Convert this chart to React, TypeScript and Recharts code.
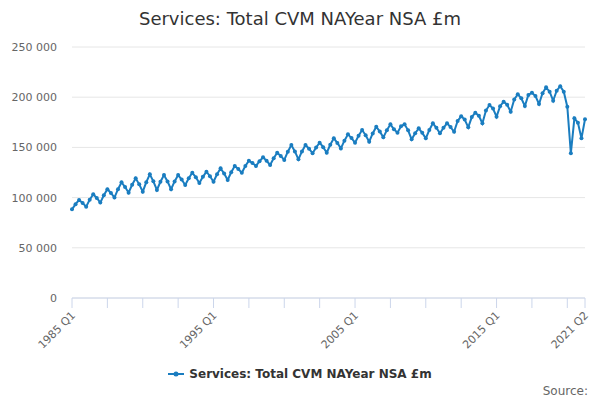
import { LineChart, Line, XAxis, YAxis, CartesianGrid } from "recharts";

const title = "Services: Total CVM NAYear NSA £m";
const seriesName = "Services: Total CVM NAYear NSA £m";
const lineColor = "#1a7dc0";
const font = "'DejaVu Sans', sans-serif";

const firstYear = 1985;
const quarterCount = 146;
const quarters = ["Q1", "Q2", "Q3", "Q4"];

// quarterly values, £m
const values1985to1994 = [
    88300, 93400, 97600, 94600,
    91000, 97800, 103300, 99600,
    95000, 102300, 108300, 104600,
    100000, 108400, 115200, 110600,
    104900, 112800, 119200, 113200,
    105900, 115400, 123200, 116200,
    107600, 115800, 122500, 116100,
    108300, 116100, 122500, 118000,
    112500, 119300, 124800, 120200,
    114500, 120700, 125800, 121300,
];
const values1995to2004 = [
    115800, 123200, 129200, 123900,
    117500, 125200, 131500, 128500,
    124800, 131400, 136800, 134400,
    131500, 136200, 140100, 136700,
    132500, 139200, 144700, 141500,
    137500, 145700, 152400, 146000,
    138100, 146000, 152400, 148700,
    144100, 149900, 154700, 150200,
    144700, 152600, 159000, 154500,
    149000, 156700, 163000, 159300,
];
const values2005to2014 = [
    154700, 161600, 167300, 162100,
    155700, 163900, 170600, 165800,
    160000, 167200, 173000, 168000,
    164700, 171000, 173000, 167000,
    158000, 164100, 169000, 164500,
    159000, 167300, 174000, 169500,
    164000, 169500, 174000, 170200,
    165600, 176400, 181000, 177700,
    170000, 180200, 184600, 181400,
    174000, 186700, 192200, 188700,
];
const values2015to2021 = [
    180600, 191000, 195500, 192500,
    185600, 197700, 202900, 198900,
    191200, 202200, 204500, 201200,
    193200, 203900, 209800, 205500,
    196500, 206500, 211000, 205500,
    190500, 144100, 179000, 174600,
    159000, 178000,
];

const yTicks = [0, 50000, 100000, 150000, 200000, 250000];
const labelledTicks = ["1985 Q1", "1995 Q1", "2005 Q1", "2015 Q1", "2021 Q2"];

const categories: string[] = [];
for (let i = 0; i < quarterCount; i++) {
    categories.push(`${firstYear + Math.floor(i / 4)} ${quarters[i % 4]}`);
}

const values = [...values1985to1994, ...values1995to2004, ...values2005to2014, ...values2015to2021];
const data = categories.map((quarter, i) => ({ quarter, value: values[i] }));

// tick marks every 10 quarters plus the last one
const xTicks = categories.filter((_, i) => i % 10 === 0 || i === quarterCount - 1);

const formatThousands = (v: number) => String(v).replace(/\B(?=(\d{3})+(?!\d))/g, " ");

const XTick = ({ x, y, payload }: any) => {
    if (!labelledTicks.includes(payload.value)) return <g />;
    return (
        <g transform={`translate(${x + 4},${y + 6}) rotate(-45)`}>
            <text textAnchor="end" fill="#666666" fontSize={11} fontFamily={font}>
                {payload.value}
            </text>
        </g>
    );
};

export default function App() {
    return (
        <div style={{ position: "absolute", left: 0, top: 0, width: 600, height: 400, fontFamily: font }}>
            <div style={{ position: "absolute", top: 8, left: 0, width: 600, textAlign: "center", fontSize: 18, color: "#333333" }}>
                {title}
            </div>
            <LineChart width={600} height={400} data={data} margin={{ top: 47, right: 15, bottom: 0, left: 0 }}>
                <CartesianGrid vertical={false} stroke="#e6e6e6" />
                <XAxis
                    dataKey="quarter"
                    ticks={xTicks}
                    interval={0}
                    height={102}
                    tick={<XTick />}
                    tickSize={10}
                    stroke="#ccd6eb"
                    tickLine={{ stroke: "#ccd6eb" }}
                    axisLine={{ stroke: "#ccd6eb" }}
                />
                <YAxis
                    width={72}
                    domain={[0, 250000]}
                    ticks={yTicks}
                    axisLine={false}
                    tickLine={false}
                    tickMargin={9}
                    tickFormatter={formatThousands}
                    tick={{ fill: "#666666", fontSize: 11, fontFamily: font }}
                />
                <Line
                    type="linear"
                    dataKey="value"
                    name={seriesName}
                    stroke={lineColor}
                    strokeWidth={2}
                    dot={{ r: 2, fill: lineColor, stroke: lineColor, strokeWidth: 0 }}
                    activeDot={false}
                    isAnimationActive={false}
                />
            </LineChart>
            <div style={{ position: "absolute", top: 367, left: 0, width: 600, display: "flex", justifyContent: "center", alignItems: "center" }}>
                <svg width={16} height={10} style={{ marginRight: 5 }}>
                    <line x1={0} y1={5} x2={16} y2={5} stroke={lineColor} strokeWidth={2} />
                    <circle cx={8} cy={5} r={2.5} fill={lineColor} />
                </svg>
                <span style={{ fontSize: 12, fontWeight: "bold", color: "#333333" }}>{seriesName}</span>
            </div>
            <div style={{ position: "absolute", top: 384, right: 12, fontSize: 12, color: "#666666" }}>Source:</div>
        </div>
    );
}
